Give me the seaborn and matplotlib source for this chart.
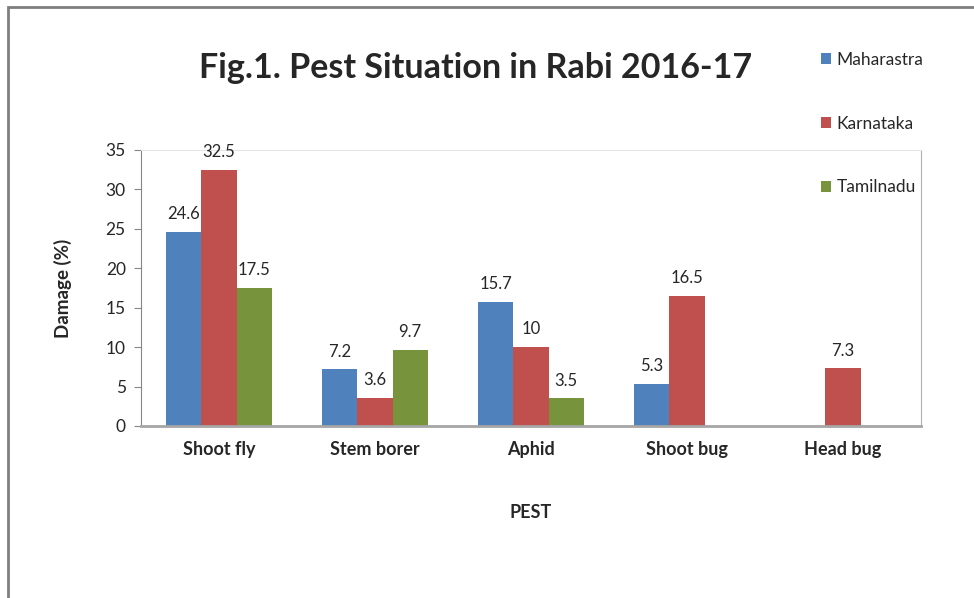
import numpy as np
import pandas as pd
import matplotlib.pyplot as plt
import seaborn as sns
from matplotlib.patches import Rectangle

# data
pests = ["Shoot fly", "Stem borer", "Aphid", "Shoot bug", "Head bug"]
states = ["Maharastra", "Karnataka", "Tamilnadu"]
maharastra = [24.6, 7.2, 15.7, 5.3, np.nan]
karnataka = [32.5, 3.6, 10, 16.5, 7.3]
tamilnadu = [17.5, 9.7, 3.5, np.nan, np.nan]
colors = ["#4F81BD", "#C0504D", "#77933C"]

df = pd.DataFrame({"PEST": pests, "Maharastra": maharastra,
                   "Karnataka": karnataka, "Tamilnadu": tamilnadu})
long = df.melt(id_vars="PEST", var_name="State", value_name="Damage").dropna()

sns.set_style("white")
plt.rcParams["font.family"] = ["Lato", "DejaVu Sans"]

fig = plt.figure(figsize=(9.74, 5.98), dpi=100)
ax = fig.add_axes([141 / 974, 1 - 426 / 598, 780 / 974, 276 / 598])

sns.barplot(data=long, x="PEST", y="Damage", hue="State", order=pests,
            hue_order=states, palette=colors, width=0.675, saturation=1,
            linewidth=0, ax=ax, legend=True)

for c in ax.containers:
    ax.bar_label(c, fmt=lambda v: f"{v:g}", padding=7, fontsize=12, color="#262626")

ax.set_ylim(0, 35)
ax.set_yticks(range(0, 36, 5))
ax.set_xlim(-0.5, 4.5)
ax.set_xticks(np.arange(-0.5, 5, 1), minor=True)
ax.tick_params(axis="x", which="major", length=0, labelsize=13, pad=11)
ax.tick_params(axis="x", which="minor", length=5, color="#868686", width=1)
ax.tick_params(axis="y", length=5, color="#868686", labelsize=12.5,
               labelcolor="#262626", left=True, pad=6)
for lbl in ax.get_xticklabels():
    lbl.set_fontweight("bold")

ax.set_xlabel("PEST", fontsize=13, fontweight="bold", labelpad=33)
ax.set_ylabel("Damage (%)", fontsize=13.5, fontweight="bold", labelpad=24)

ax.spines["left"].set_color("#868686")
ax.spines["bottom"].set_color("#A6A6A6")
ax.spines["bottom"].set_linewidth(2)
ax.spines["top"].set_color("#E6E6E6")
ax.spines["right"].set_color("#B0B0B0")

leg = ax.legend(loc="upper left", bbox_to_anchor=(821 / 974, 1 - 52 / 598),
                bbox_transform=fig.transFigure, frameon=False, fontsize=12.5,
                handlelength=0.6, handleheight=0.6, handletextpad=0.3,
                labelspacing=2.75, borderpad=0, borderaxespad=0)

fig.suptitle("Fig.1. Pest Situation in Rabi 2016-17", x=476 / 974, y=1 - 68 / 598,
             va="center", fontsize=24.5, fontweight="bold")

# outer chart border (partly cut off in the reference)
fig.patches.append(Rectangle((8 / 974, -0.1), 1.1, 1 - 7 / 598 + 0.1,
                             transform=fig.transFigure, fill=False,
                             edgecolor="#7F7F7F", linewidth=2))

fig.savefig("out.png", dpi=100)
